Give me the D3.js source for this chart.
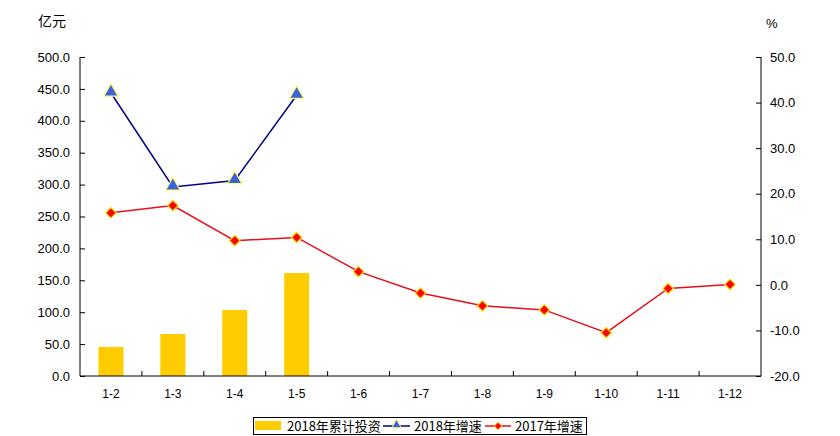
<!DOCTYPE html>
<html>
<head>
<meta charset="utf-8">
<script src="https://cdn.jsdelivr.net/npm/d3@7"></script>
<style>
  html, body { margin: 0; padding: 0; background: #fff; }
  svg text { font-family: "Liberation Sans", Arial, "Noto Sans CJK SC", sans-serif; fill: #000; }
</style>
</head>
<body>
<svg id="chart" width="840" height="436"></svg>
<script>
// Monthly cumulative periods
const categories = ["1-2", "1-3", "1-4", "1-5", "1-6", "1-7", "1-8", "1-9", "1-10", "1-11", "1-12"];
// 2018 cumulative investment (亿元)
const invest2018 = [45.5, 65.8, 103.4, 161.4];
// 2018 growth rate (%)
const growth2018 = [42.1, 21.5, 22.9, 41.6];
// 2017 growth rate (%)
const growth2017 = [15.8, 17.4, 9.7, 10.4, 2.9, -1.8, -4.6, -5.5, -10.5, -0.8, 0.1];
// Axis tick values
const leftTicks = [0, 50, 100, 150, 200, 250, 300, 350, 400, 450, 500];
const rightTicks = [-20, -10, 0, 10, 20, 30, 40, 50];
const legendLabels = ["2018年累计投资", "2018年增速", "2017年增速"];

const svg = d3.select("#chart");
const plot = { left: 80, right: 761, top: 57, bottom: 376 };

const x = d3.scaleBand().domain(categories).range([plot.left, plot.right]);
const yL = d3.scaleLinear().domain([0, 500]).range([plot.bottom, plot.top]);
const yR = d3.scaleLinear().domain([-20, 50]).range([plot.bottom, plot.top]);
const cx = d => x(d) + x.bandwidth() / 2;

// Bars
svg.append("g").selectAll("rect").data(invest2018).join("rect")
  .attr("x", (d, i) => cx(categories[i]) - 12.5)
  .attr("width", 25)
  .attr("y", d => yL(d))
  .attr("height", d => yL(0) - yL(d))
  .attr("fill", "#FFCC00");

// Left axis
const gL = svg.append("g").attr("transform", `translate(${plot.left},0)`)
  .call(d3.axisRight(yL).tickValues(leftTicks).tickSize(5).tickFormat(""));
gL.select(".domain").attr("d", `M0,${plot.top}V${plot.bottom}`).attr("stroke", "#000");
gL.selectAll(".tick line").attr("stroke", "#000");
svg.append("g").selectAll("text").data(leftTicks).join("text")
  .attr("x", 70).attr("y", d => yL(d)).attr("dy", "0.36em")
  .attr("text-anchor", "end").attr("font-size", 13).text(d => d.toFixed(1));

// Right axis
const gR = svg.append("g").attr("transform", `translate(${plot.right},0)`)
  .call(d3.axisLeft(yR).tickValues(rightTicks).tickSize(5).tickFormat(""));
gR.select(".domain").attr("d", `M0,${plot.top}V${plot.bottom}`).attr("stroke", "#000");
gR.selectAll(".tick line").attr("stroke", "#000");
svg.append("g").selectAll("text").data(rightTicks).join("text")
  .attr("x", 770).attr("y", d => yR(d)).attr("dy", "0.36em")
  .attr("text-anchor", "start").attr("font-size", 13).text(d => d.toFixed(1));

// Category axis
const gX = svg.append("g").attr("transform", `translate(0,${plot.bottom})`);
gX.append("line").attr("x1", plot.left).attr("x2", plot.right).attr("stroke", "#000");
gX.selectAll(".tk").data(categories.slice(1)).join("line").attr("class", "tk")
  .attr("x1", d => x(d)).attr("x2", d => x(d)).attr("y1", 0).attr("y2", -5).attr("stroke", "#000");
gX.selectAll("text").data(categories).join("text")
  .attr("x", d => cx(d)).attr("y", 22).attr("text-anchor", "middle")
  .attr("font-size", 12).text(d => d);

// Axis units
svg.append("text").attr("x", 38).attr("y", 26).attr("font-size", 14)
  .style("font-family", "'Noto Sans CJK SC', sans-serif").text("亿元");
svg.append("text").attr("x", 766).attr("y", 28).attr("font-size", 13).text("%");

// Lines
const line = d3.line().x((d, i) => cx(categories[i])).y(d => yR(d));
svg.append("path").datum(growth2017).attr("d", line)
  .attr("fill", "none").attr("stroke", "#E8101A").attr("stroke-width", 1.5);
svg.append("path").datum(growth2018).attr("d", line)
  .attr("fill", "none").attr("stroke", "#000080").attr("stroke-width", 1.5);

const diamond = d3.symbol().type(d3.symbolDiamond2).size(70);
const triangle = d3.symbol().type(d3.symbolTriangle).size(90);

svg.append("g").selectAll("path").data(growth2017).join("path")
  .attr("d", diamond)
  .attr("transform", (d, i) => `translate(${cx(categories[i])},${yR(d)})`)
  .attr("fill", "#FF0000").attr("stroke", "#FFE000").attr("stroke-width", 1.2);
svg.append("g").selectAll("path").data(growth2018).join("path")
  .attr("d", triangle)
  .attr("transform", (d, i) => `translate(${cx(categories[i])},${yR(d) - 1})`)
  .attr("fill", "#3B63E0").attr("stroke", "#FFFF66").attr("stroke-width", 1.2);

// Legend
const lg = svg.append("g");
lg.append("rect").attr("x", 253.5).attr("y", 417.5).attr("width", 333).attr("height", 17)
  .attr("fill", "#fff").attr("stroke", "#000");
const lgFont = "'Noto Sans CJK SC', sans-serif";
lg.append("rect").attr("x", 255).attr("y", 421).attr("width", 26).attr("height", 9).attr("fill", "#FFCC00");
lg.append("text").attr("x", 287).attr("y", 431).attr("font-size", 13).style("font-family", lgFont).text(legendLabels[0]);
lg.append("line").attr("x1", 383).attr("x2", 410).attr("y1", 426).attr("y2", 426).attr("stroke", "#000080").attr("stroke-width", 1.5);
lg.append("path").attr("d", d3.symbol().type(d3.symbolTriangle).size(40)).attr("transform", "translate(396.5,425)")
  .attr("fill", "#3B63E0").attr("stroke", "#FFFF66").attr("stroke-width", 1);
lg.append("text").attr("x", 414).attr("y", 431).attr("font-size", 13).style("font-family", lgFont).text(legendLabels[1]);
lg.append("line").attr("x1", 485).attr("x2", 511).attr("y1", 426).attr("y2", 426).attr("stroke", "#E8101A").attr("stroke-width", 1.5);
lg.append("path").attr("d", d3.symbol().type(d3.symbolDiamond2).size(35)).attr("transform", "translate(498,426)")
  .attr("fill", "#FF0000").attr("stroke", "#FFE000").attr("stroke-width", 1);
lg.append("text").attr("x", 515).attr("y", 431).attr("font-size", 13).style("font-family", lgFont).text(legendLabels[2]);
</script>
</body>
</html>
